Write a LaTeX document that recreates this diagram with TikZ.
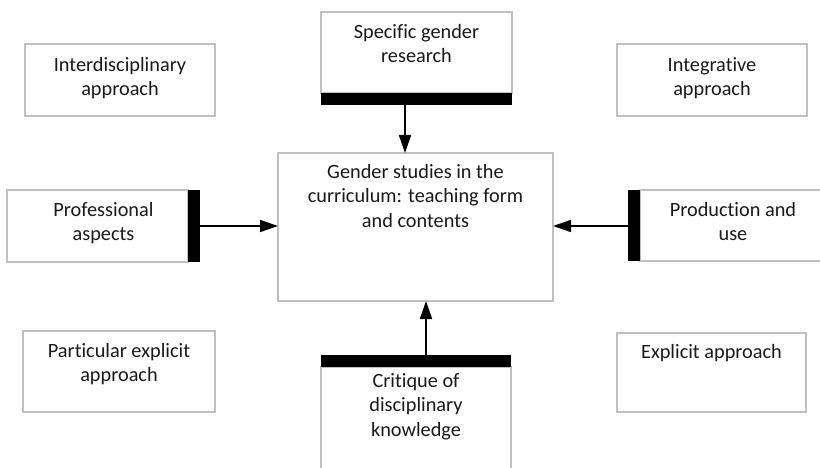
\documentclass[tikz,border=0pt]{standalone}
\usepackage{fontspec}
\setmainfont{Carlito}[Ligatures={NoCommon}]
\usetikzlibrary{arrows.meta}
\definecolor{boxgray}{HTML}{C0C0C0}
\definecolor{txtcol}{HTML}{1A1A1A}
\tikzset{
  boxshape/.style={draw=boxgray, line width=1.3pt, fill=white},
  barshape/.style={fill=black, draw=none},
  txt/.style={inner sep=0pt, align=center, text=txtcol, font=\fontsize{20.3}{24.7}\selectfont, anchor=north},
  conn/.style={line width=1.6pt, -{Triangle[length=18pt,width=12pt]}}
}
\begin{document}
\begin{tikzpicture}[x=1pt,y=-1pt]
\useasboundingbox (0,0) rectangle (820,468);
\begin{scope}
\clip (0,0) rectangle (820,468);
% boxes
\draw[boxshape] (25,44) rectangle (215,116);
\coordinate (inter) at (120,44);
\draw[boxshape] (617,44) rectangle (807,116);
\coordinate (integ) at (712,44);
\draw[boxshape] (321,12) rectangle (512,93);
\coordinate (spec) at (416.5,12);
\fill[barshape] (321,93) rectangle (512,105);
\coordinate (specbar) at (405,105);
\draw[boxshape] (278,153) rectangle (553,301);
\coordinate (central) at (415.5,153);
\coordinate (centralL) at (278,226);
\coordinate (centralR) at (553,226);
\coordinate (centralB) at (426,301);
\draw[boxshape] (7,190) rectangle (188,262);
\fill[barshape] (188,190) rectangle (200,262);
\coordinate (prof) at (103.5,190);
\coordinate (profbar) at (200,226);
\draw[boxshape] (640,190) rectangle (838,261);
\fill[barshape] (628,190) rectangle (640,261);
\coordinate (prod) at (733,190);
\coordinate (prodbar) at (628,226);
\draw[boxshape] (23,331) rectangle (215,412);
\coordinate (part) at (119,331);
\draw[boxshape] (617,333) rectangle (806,412);
\coordinate (expl) at (711.5,333);
\draw[boxshape] (321,367) rectangle (511,500);
\fill[barshape] (321,355) rectangle (511,367);
\coordinate (crit) at (416,367);
\coordinate (critbar) at (426,355);
\end{scope}
% texts
\node[txt] (tinter) at ([yshift=-13]inter) {Interdisciplinary\\approach};
\node[txt] (tinteg) at ([yshift=-13]integ) {Integrative\\approach};
\node[txt] (tspec) at ([yshift=-12]spec) {Specific gender\\research};
\node[txt] (tcentral) at ([yshift=-11]central) {Gender studies in the\\curriculum: teaching form\\and contents};
\node[txt] (tprof) at ([yshift=-12]prof) {Professional\\aspects};
\node[txt] (tprod) at ([yshift=-12]prod) {Production and\\use};
\node[txt] (tpart) at ([yshift=-12]part) {Particular explicit\\approach};
\node[txt] (texpl) at ([yshift=-11]expl) {Explicit approach};
\node[txt] (tcrit) at ([yshift=-6]crit) {Critique of\\disciplinary\\knowledge};
% connectors
\draw[conn] (specbar) -- (specbar |- central);
\draw[conn] (profbar) -- (centralL);
\draw[conn] (prodbar) -- (centralR);
\draw[conn] (critbar) -- (centralB);
\end{tikzpicture}
\end{document}
